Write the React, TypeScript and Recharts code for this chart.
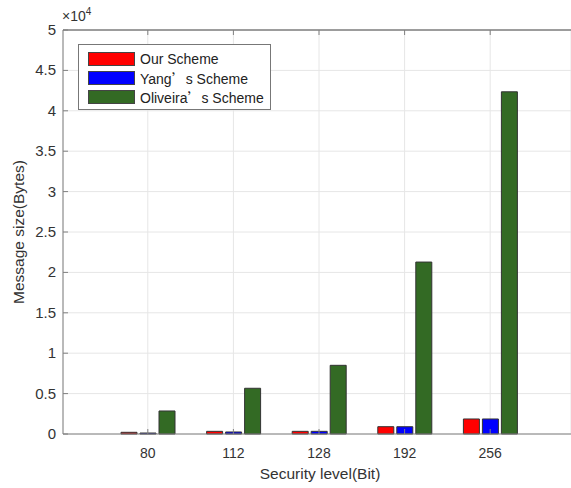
import { BarChart, Bar, XAxis, YAxis, CartesianGrid, Legend, ReferenceLine } from 'recharts'

const levels = ['80', '112', '128', '192', '256']
const ourScheme = [210, 330, 330, 905, 1860]
const yangScheme = [120, 250, 330, 900, 1860]
const oliveiraScheme = [2850, 5660, 8500, 21280, 42350]
const yTicks = [0, 5000, 10000, 15000, 20000, 25000, 30000, 35000, 40000, 45000, 50000]

const series = [
  { key: 'our', name: 'Our Scheme', color: '#ff0000' },
  { key: 'yang', name: 'Yang’s Scheme', color: '#0000ff' },
  { key: 'oliveira', name: 'Oliveira’s Scheme', color: '#336a24' },
]

const data = levels.map((level, i) => ({
  level,
  our: ourScheme[i],
  yang: yangScheme[i],
  oliveira: oliveiraScheme[i],
}))

const FONT = '"Liberation Sans", Arial, sans-serif'
const TEXT = '#333'
const AXIS = '#808080'

function withWideQuote(name: string) {
  const parts = name.split('’')
  if (parts.length < 2) return name
  return (
    <>
      {parts[0]}
      <span style={{ fontFamily: '"Noto Sans CJK SC"' }}>’</span>
      {parts[1]}
    </>
  )
}

function BoxLegend() {
  return (
    <div
      style={{
        border: '1px solid #777',
        background: '#fff',
        padding: '4px 6px 3px 9px',
        fontFamily: FONT,
        fontSize: 14,
        color: '#222',
      }}
    >
      {series.map((s) => (
        <div key={s.key} style={{ display: 'flex', alignItems: 'center', height: 19 }}>
          <span
            style={{
              display: 'inline-block',
              width: 45,
              height: 12,
              background: s.color,
              border: '1px solid #444',
              marginRight: 5,
            }}
          />
          <span style={{ whiteSpace: 'nowrap' }}>{withWideQuote(s.name)}</span>
        </div>
      ))}
    </div>
  )
}

// MATLAB style: labels outside, small ticks pointing inward
function BottomTick(props: any) {
  const { x, y, payload } = props
  const axisY = y - 12
  return (
    <g>
      <line x1={x} x2={x} y1={axisY} y2={axisY - 5} stroke={AXIS} />
      <text x={x} y={y} dy={12} textAnchor="middle" fill={TEXT} fontSize={14} fontFamily={FONT}>
        {payload.value}
      </text>
    </g>
  )
}

function TopTick(props: any) {
  const { x, y } = props
  return <line x1={x} x2={x} y1={y} y2={y + 5} stroke={AXIS} />
}

function LeftTick(props: any) {
  const { x, y, payload } = props
  const axisX = x + 7
  return (
    <g>
      <line x1={axisX} x2={axisX + 5} y1={y} y2={y} stroke={AXIS} />
      <text x={x} y={y} dy={5} textAnchor="end" fill={TEXT} fontSize={15} fontFamily={FONT}>
        {payload.value / 10000}
      </text>
    </g>
  )
}

export default function App() {
  return (
    <div style={{ position: 'absolute', left: 0, top: 0, width: 571, height: 488, background: '#fff' }}>
      <div
        style={{
          position: 'absolute',
          left: 62,
          top: 6,
          fontFamily: FONT,
          fontSize: 14,
          color: TEXT,
        }}
      >
        ×10<sup style={{ fontSize: 10 }}>4</sup>
      </div>
      <BarChart
        width={571}
        height={488}
        data={data}
        margin={{ top: 29, right: 0, bottom: 53, left: 62 }}
        barSize={16}
        barGap={3}
      >
        <CartesianGrid stroke="#e6e6e6" />
        <XAxis
          dataKey="level"
          height={1}
          padding={{ left: 42, right: 38 }}
          axisLine={{ stroke: AXIS }}
          tickLine={false}
          tickSize={0}
          tickMargin={12}
          tick={<BottomTick />}
          interval={0}
          label={{
            value: 'Security level(Bit)',
            position: 'insideBottom',
            offset: -44,
            fill: TEXT,
            fontSize: 15.5,
            fontFamily: FONT,
            dx: 3,
          }}
        />
        <XAxis
          xAxisId="top"
          dataKey="level"
          orientation="top"
          height={1}
          padding={{ left: 42, right: 38 }}
          axisLine={{ stroke: AXIS }}
          tickLine={false}
          tickSize={0}
          tickMargin={0}
          tick={<TopTick />}
          interval={0}
        />
        <YAxis
          width={1}
          domain={[0, 50000]}
          ticks={yTicks}
          interval={0}
          axisLine={{ stroke: AXIS }}
          tickLine={false}
          tickSize={0}
          tickMargin={7}
          tick={<LeftTick />}
          label={{
            value: 'Message size(Bytes)',
            angle: -90,
            position: 'insideLeft',
            offset: -44,
            fill: TEXT,
            fontSize: 15.5,
            fontFamily: FONT,
            style: { textAnchor: 'middle' },
          }}
        />
        <ReferenceLine y={50000} stroke={AXIS} />
        <Legend
          verticalAlign="middle"
          align="center"
          layout="horizontal"
          wrapperStyle={{ left: 78, top: 44, width: 'auto', height: 'auto' }}
          content={() => <BoxLegend />}
        />
        {series.map((s) => (
          <Bar
            key={s.key}
            dataKey={s.key}
            name={s.name}
            fill={s.color}
            stroke="#333"
            strokeWidth={1}
            isAnimationActive={false}
          />
        ))}
      </BarChart>
    </div>
  )
}
